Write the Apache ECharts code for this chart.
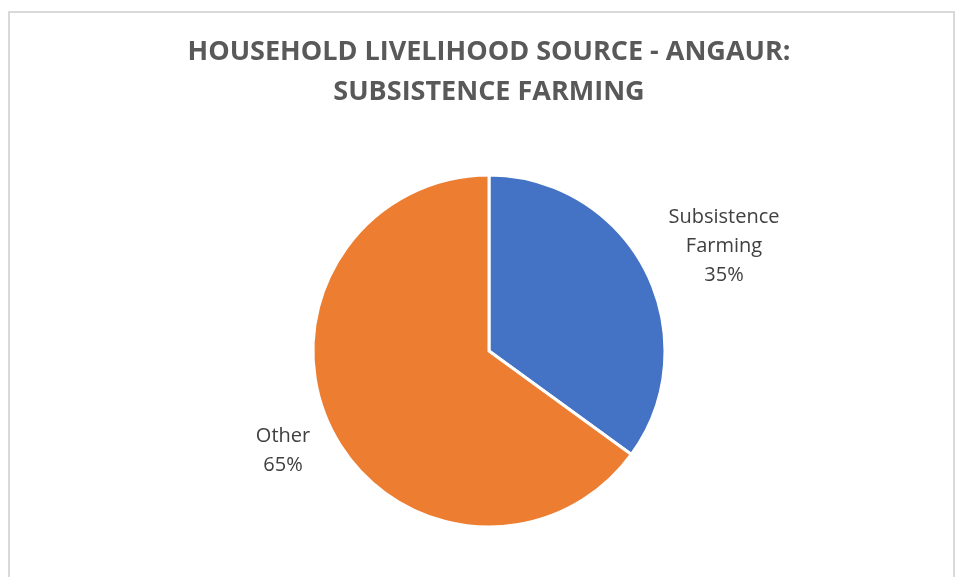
<!DOCTYPE html>
<html><head><meta charset="utf-8">
<script src="https://cdn.jsdelivr.net/npm/echarts@6/dist/echarts.min.js"></script>
<style>html,body{margin:0;padding:0;background:#fff}#c{width:956px;height:577px}</style>
</head><body><div id="c"></div>
<script>
const titleLines = ['HOUSEHOLD LIVELIHOOD SOURCE - ANGAUR:', 'SUBSISTENCE FARMING'];
const categories = ['Subsistence Farming', 'Other'];
const labelNames = ['Subsistence\nFarming', 'Other'];
const values = [35, 65];
const colors = ['#4472C4', '#ED7D31'];

const chart = echarts.init(document.getElementById('c'), null, {renderer: 'canvas'});
const labelPos = [[724, 246], [283, 451]];
chart.setOption({
  animation: false,
  backgroundColor: '#fff',
  graphic: [{
    type: 'rect', shape: {x: 9, y: 12, width: 945, height: 600},
    style: {fill: 'none', stroke: '#d9d9d9', lineWidth: 2}, silent: true
  }, {
    type: 'text', x: 489, y: 72, silent: true,
    style: {
      text: titleLines.join('\n'), align: 'center', verticalAlign: 'middle',
      fontFamily: 'Open Sans', fontWeight: 'bold', fontSize: 27, fill: '#595959', lineHeight: 40
    }
  }],
  series: [{
    type: 'pie', center: [489, 351], radius: [0, 176], startAngle: 90, clockwise: true,
    data: categories.map((c, i) => ({name: c, value: values[i], itemStyle: {color: colors[i]}})),
    itemStyle: {borderColor: '#fff', borderWidth: 3},
    label: {
      show: true, position: 'outside',
      formatter: p => labelNames[p.dataIndex] + '\n' + p.value + '%',
      fontFamily: 'Open Sans', fontSize: 20, color: '#404040', lineHeight: 29, align: 'center'
    },
    labelLine: {show: false},
    labelLayout: p => ({x: labelPos[p.dataIndex][0], y: labelPos[p.dataIndex][1], align: 'center', verticalAlign: 'middle'})
  }]
});
</script></body></html>
